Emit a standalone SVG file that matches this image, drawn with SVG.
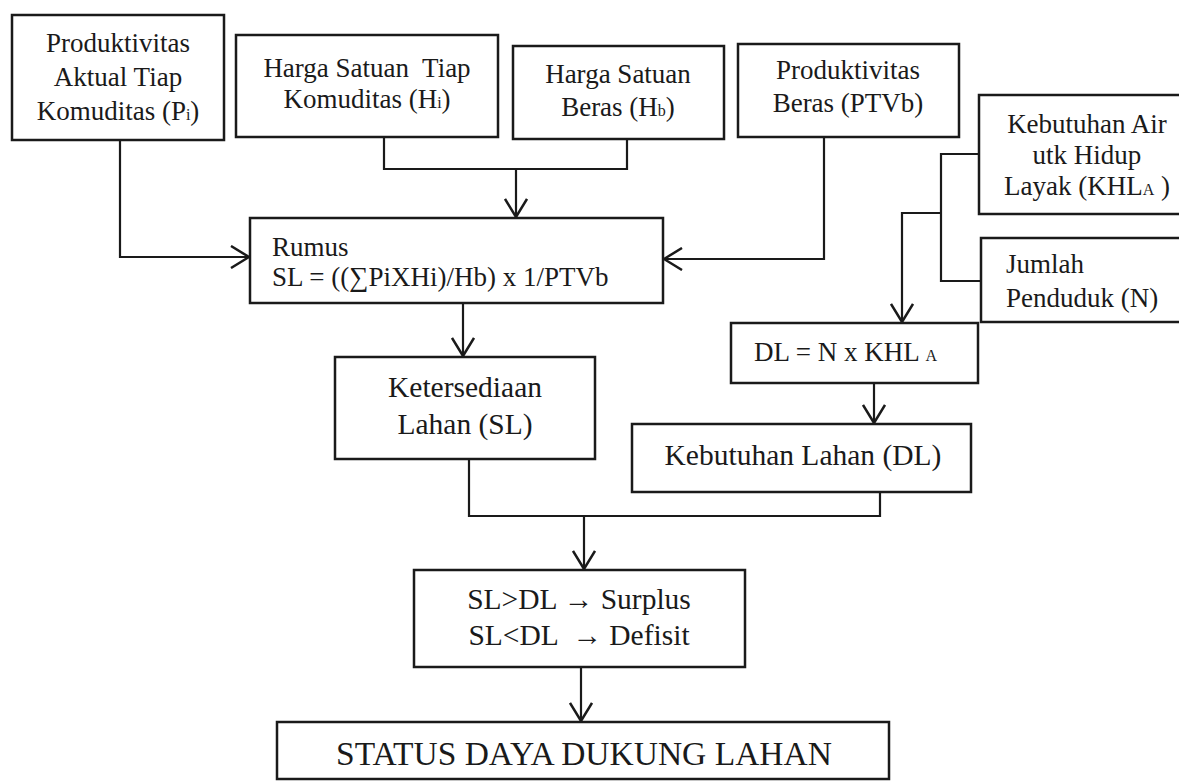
<svg xmlns="http://www.w3.org/2000/svg" width="1179" height="784" viewBox="0 0 1179 784">
<style>
.box{fill:#fff;stroke:#1a1a1a;stroke-width:2.5}
text{font-family:'Liberation Serif',serif;fill:#1a1a1a}
.t{font-size:27px}
.l{font-size:29.5px}
.c{text-anchor:middle}
.sub{font-size:16px}
.con{fill:none;stroke:#1a1a1a;stroke-width:2.2}
</style>
<defs>
<marker id="ah" viewBox="0 0 20 24" refX="19" refY="12" markerWidth="20" markerHeight="24" markerUnits="userSpaceOnUse" orient="auto">
<path d="M1,1 L19,12 L1,23" fill="none" stroke="#1a1a1a" stroke-width="2.5"/>
</marker>
</defs>
<rect width="1179" height="784" fill="#fff"/>
<g id="connectors">
<path class="con" d="M120,140 V257 H249" marker-end="url(#ah)"/>
<path class="con" d="M384,137 V169 H627 V139"/>
<path class="con" d="M516,169 V217" marker-end="url(#ah)"/>
<path class="con" d="M824,137 V259 H664" marker-end="url(#ah)"/>
<path class="con" d="M979,154 H941 V281 H981"/>
<path class="con" d="M941,213 H902 V322" marker-end="url(#ah)"/>
<path class="con" d="M463,303 V356" marker-end="url(#ah)"/>
<path class="con" d="M874,383 V423" marker-end="url(#ah)"/>
<path class="con" d="M469,459 V516 H880 V492"/>
<path class="con" d="M584,516 V569" marker-end="url(#ah)"/>
<path class="con" d="M581,667 V721" marker-end="url(#ah)"/>
</g>
<g id="n-produktivitas-aktual">
<rect class="box" x="12" y="15" width="212" height="125"/>
<text class="t c" x="118" y="52">Produktivitas</text>
<text class="t c" x="118" y="86">Aktual Tiap</text>
<text class="t c" x="118" y="120">Komuditas (P<tspan class="sub">i</tspan>)</text>
</g>
<g id="n-harga-komuditas">
<rect class="box" x="236" y="35" width="262" height="102"/>
<text class="t c" x="367" y="77" xml:space="preserve">Harga Satuan  Tiap</text>
<text class="t c" x="367" y="108">Komuditas (H<tspan class="sub">i</tspan>)</text>
</g>
<g id="n-harga-beras">
<rect class="box" x="513" y="46" width="211" height="93"/>
<text class="t c" x="618" y="83">Harga Satuan</text>
<text class="t c" x="618" y="116">Beras (H<tspan class="sub">b</tspan>)</text>
</g>
<g id="n-produktivitas-beras">
<rect class="box" x="738" y="44" width="221" height="93"/>
<text class="t c" x="848" y="79">Produktivitas</text>
<text class="t c" x="848" y="112">Beras (PTVb)</text>
</g>
<g id="n-kebutuhan-air">
<rect class="box" x="979" y="95" width="215" height="119"/>
<text class="t c" x="1087" y="133">Kebutuhan Air</text>
<text class="t c" x="1087" y="164">utk Hidup</text>
<text class="t c" x="1087" y="195">Layak (KHL<tspan class="sub">A</tspan> )</text>
</g>
<g id="n-jumlah-penduduk">
<rect class="box" x="981" y="238" width="215" height="84"/>
<text class="t" x="1006" y="273">Jumlah</text>
<text class="t" x="1006" y="307">Penduduk (N)</text>
</g>
<g id="n-rumus">
<rect class="box" x="250" y="218" width="413" height="85"/>
<text class="t" x="272" y="256">Rumus</text>
<text class="t" x="272" y="286">SL = ((∑PiXHi)/Hb) x 1/PTVb</text>
</g>
<g id="n-dl-rumus">
<rect class="box" x="731" y="323" width="247" height="60"/>
<text class="t" x="754" y="361">DL = N x KHL <tspan class="sub">A</tspan></text>
</g>
<g id="n-ketersediaan">
<rect class="box" x="335" y="357" width="260" height="102"/>
<text class="l c" x="465" y="397">Ketersediaan</text>
<text class="l c" x="465" y="434">Lahan (SL)</text>
</g>
<g id="n-kebutuhan-lahan">
<rect class="box" x="632" y="424" width="339" height="68"/>
<text class="l c" x="803" y="465">Kebutuhan Lahan (DL)</text>
</g>
<g id="n-perbandingan">
<rect class="box" x="414" y="570" width="331" height="97"/>
<text class="l c" x="579" y="609">SL&gt;DL → Surplus</text>
<text class="l c" x="579" y="645" xml:space="preserve">SL&lt;DL  → Defisit</text>
</g>
<g id="n-status">
<rect class="box" x="277" y="722" width="612" height="57"/>
<text class="c" x="584" y="765" style="font-size:33.5px">STATUS DAYA DUKUNG LAHAN</text>
</g>
</svg>
